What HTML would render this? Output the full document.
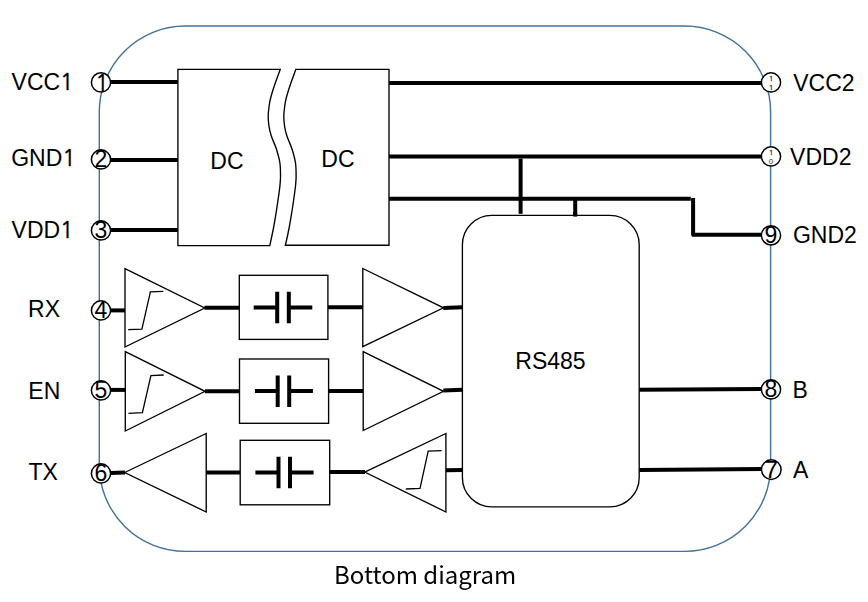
<!DOCTYPE html>
<html lang="en">
<head>
<meta charset="utf-8">
<title>Bottom diagram</title>
<style>
html,body{margin:0;padding:0;background:#fff;}
body{width:868px;height:602px;overflow:hidden;}
svg{display:block;}
text{font-family:"Liberation Sans",Arial,Helvetica,sans-serif;fill:#000;}
.lbl{font-size:23.0px;}
.num{font-size:23.0px;text-anchor:middle;}
.one{font-family:"NanumGothic","Liberation Sans",sans-serif;font-size:22.4px;stroke:#000;stroke-width:0.45px;}
.tiny{font-size:8px;text-anchor:middle;fill:#333;}
.one1{font-family:"NanumGothic","Liberation Sans",sans-serif;font-size:7.8px;stroke:#333;stroke-width:0.3px;}
.cap{filter:grayscale(1);font-family:"Noto Sans CJK SC","Noto Sans CJK JP","Liberation Sans",sans-serif;font-size:24px;}
.w{stroke:#000;stroke-width:4;fill:none;}
.t{stroke:#000;stroke-width:1.35;fill:#fff;stroke-linejoin:miter;}
.s{stroke:#000;stroke-width:1.3;fill:none;}
.pin{stroke:#000;stroke-width:1.5;fill:#fff;}
.pkg{stroke:#41719c;stroke-width:1.4;fill:none;}
</style>
</head>
<body>
<svg width="868" height="602" viewBox="0 0 868 602">
<rect x="0" y="0" width="868" height="602" fill="#fff"/>

<!-- package outline -->
<rect class="pkg" x="99.3" y="26" width="671.3" height="525.4" rx="86" ry="86"/>
<!-- wires -->
<g class="w">
  <path d="M110 82.1H178"/>
  <path d="M110 160.1H178"/>
  <path d="M110 230.1H178"/>
  <path d="M389 83H762"/>
  <path d="M389 156.45H762"/>
  <path d="M389 198.8H690.8M693.1 198V235.5M691.8 234.85H762"/>
  <path d="M520.6 158.6V213.8"/>
  <path d="M575.2 198.8V216.6"/>
  <path d="M110 310.4H125"/>
  <path d="M204.5 307.8H239.3"/>
  <path d="M328 307.3H363"/>
  <path d="M443.3 308L462.4 307.3"/>
  <path d="M110 389.9H125.3"/>
  <path d="M205 391.3H239.5"/>
  <path d="M328.6 390.9H363.2"/>
  <path d="M443.3 390.6L462.4 389.8"/>
  <path d="M110 472.9L124.9 472.6"/>
  <path d="M206.2 472.4H240.2"/>
  <path d="M329.7 472H365"/>
  <path d="M445.9 470.3L462.4 469.9"/>
  <path d="M639.2 389.7L762 388.9"/>
  <path d="M639.2 470.1L762 469.1"/>
</g>
<!-- DC/DC converter halves -->
<path class="t" d="M177.9 69.3H280.3C279.4 71.9 276.2 80.4 274.6 85.0C273.0 89.6 271.8 93.6 270.9 97.0C270.0 100.4 269.6 102.3 269.2 105.5C268.8 108.7 268.2 112.5 268.2 116.0C268.2 119.5 268.5 123.1 269.0 126.4C269.5 129.7 270.1 132.2 271.3 136.0C272.5 139.8 275.0 144.5 276.4 149.0C277.8 153.5 279.2 158.3 279.9 163.0C280.6 167.7 280.5 173.2 280.5 177.0C280.5 180.8 280.2 182.8 279.9 186.0C279.6 189.2 279.2 191.8 278.6 196.0C278.0 200.2 277.2 205.7 276.4 211.0C275.5 216.3 274.6 222.2 273.5 228.0C272.4 233.8 270.4 242.7 269.8 245.6H177.9Z"/>
<path class="t" d="M295.9 69.3H389V245.2H285.4C286.0 242.7 288.0 233.8 289.1 228.0C290.2 222.2 291.1 216.3 292.0 211.0C292.9 205.7 293.6 200.2 294.2 196.0C294.8 191.8 295.2 189.2 295.5 186.0C295.8 182.8 296.1 180.8 296.1 177.0C296.1 173.2 296.2 167.7 295.5 163.0C294.8 158.3 293.4 153.5 292.0 149.0C290.6 144.5 288.1 139.8 286.9 136.0C285.7 132.2 285.1 129.7 284.6 126.4C284.1 123.1 283.8 119.5 283.8 116.0C283.8 112.5 284.4 108.7 284.8 105.5C285.2 102.3 285.6 100.4 286.5 97.0C287.4 93.6 288.6 89.6 290.2 85.0C291.8 80.4 295.0 71.9 295.9 69.3Z"/>
<text class="lbl" x="210.3" y="168.5">DC</text>
<text class="lbl" x="321.3" y="167.1">DC</text>
<!-- RS485 transceiver -->
<rect class="t" x="462.4" y="215.4" width="176.8" height="291.5" rx="29.4" ry="29.4"/>
<path class="w" d="M575.2 212V216.6"/>
<text class="lbl" x="515.3" y="369.2">RS485</text>
<!-- channel RX -->
<path class="t" d="M125 268.7L204.7 308L125 347Z"/>
<path class="s" d="M128.2 329.7L141.9 329.1L150.4 291.8L163.3 291.4"/>
<rect class="t" x="239.3" y="275.3" width="88.6" height="64.1"/>
<path class="w" d="M253.7 307.5H277.2M277.2 291.8V323.2M288.8 291.8V323.2M288.8 307.5H312.3"/>
<path class="t" d="M362.8 268.5L443.5 307.8L362.8 346.7Z"/>
<!-- channel EN -->
<path class="t" d="M125.3 351.7L205.1 391.3L125.3 431Z"/>
<path class="s" d="M128.5 413.3L142.4 412.7L150.9 375.6L163.7 375"/>
<rect class="t" x="239.5" y="359" width="89.1" height="64.3"/>
<path class="w" d="M254.9 390.9H277.7M277.7 375.5V406.9M289.2 375.5V406.9M289.2 390.9H312.9"/>
<path class="t" d="M363.2 351.7L443.5 391.3L363.2 430.5Z"/>
<!-- channel TX -->
<path class="t" d="M124.7 472.5L206.2 433.5V512Z"/>
<rect class="t" x="240.2" y="440.3" width="89.5" height="64.5"/>
<path class="w" d="M255.4 472.4H278.5M278.5 456.8V488.2M290 456.8V488.2M290 472.4H313.6"/>
<path class="t" d="M364.7 472.1L445.9 433.5V512Z"/>
<path class="s" d="M405.8 489L420 488.4L428.2 451.2L441.7 450.6"/>
<!-- pins -->
<circle class="pin" cx="101.00" cy="82.40" r="9.6"/><text class="num" x="101.00" y="90.40"><tspan class="one" dx="1" dy="0.3">1</tspan></text>
<circle class="pin" cx="101.00" cy="159.45" r="9.6"/><text class="num" x="101.00" y="167.45">2</text>
<circle class="pin" cx="101.00" cy="230.45" r="9.6"/><text class="num" x="101.00" y="238.45">3</text>
<circle class="pin" cx="101.00" cy="310.45" r="9.6"/><text class="num" x="101.00" y="318.45">4</text>
<circle class="pin" cx="101.00" cy="390.45" r="9.6"/><text class="num" x="101.00" y="398.45">5</text>
<circle class="pin" cx="101.00" cy="473.45" r="9.6"/><text class="num" x="101.00" y="481.45">6</text>
<circle class="pin" cx="771.00" cy="235.35" r="9.6"/><text class="num" x="771.00" y="243.35">9</text>
<circle class="pin" cx="771.00" cy="389.45" r="9.6"/><text class="num" x="771.00" y="397.45">8</text>
<circle class="pin" cx="771.30" cy="469.60" r="9.8"/><text class="num" style="font-size:24.5px" x="771.30" y="477.90">7</text>
<circle class="pin" cx="771" cy="82.45" r="9.6"/><text class="tiny one1" x="771" y="80.7">1</text><text class="tiny one1" x="771" y="89.9">1</text>
<circle class="pin" cx="771" cy="156.45" r="9.6"/><text class="tiny one1" x="771" y="154.7">1</text><text class="tiny" x="771" y="164.1">0</text>
<!-- labels -->
<g class="lbl">
  <text x="11.6" y="90.3">VCC<tspan class="one" dx="-0.1">1</tspan></text>
  <text x="11.2" y="165.6">GND<tspan class="one" dx="-0.1">1</tspan></text>
  <text x="11.6" y="238.4">VDD<tspan class="one" dx="-0.1">1</tspan></text>
  <text x="28.1" y="316.6">RX</text>
  <text x="28.3" y="398.9">EN</text>
  <text x="28.5" y="480.0">TX</text>
  <text x="793.2" y="90.7" style="font-size:23px">VCC2</text>
  <text x="790.1" y="164.6" style="font-size:23px">VDD2</text>
  <text x="792.9" y="243.1" style="font-size:23px">GND2</text>
  <text x="792.6" y="398.4" style="font-size:23px">B</text>
  <text x="793.0" y="477.7" style="font-size:23px">A</text>
</g>
<text class="cap" x="334.1" y="583.6">Bottom diagram</text>
</svg>
</body>
</html>
